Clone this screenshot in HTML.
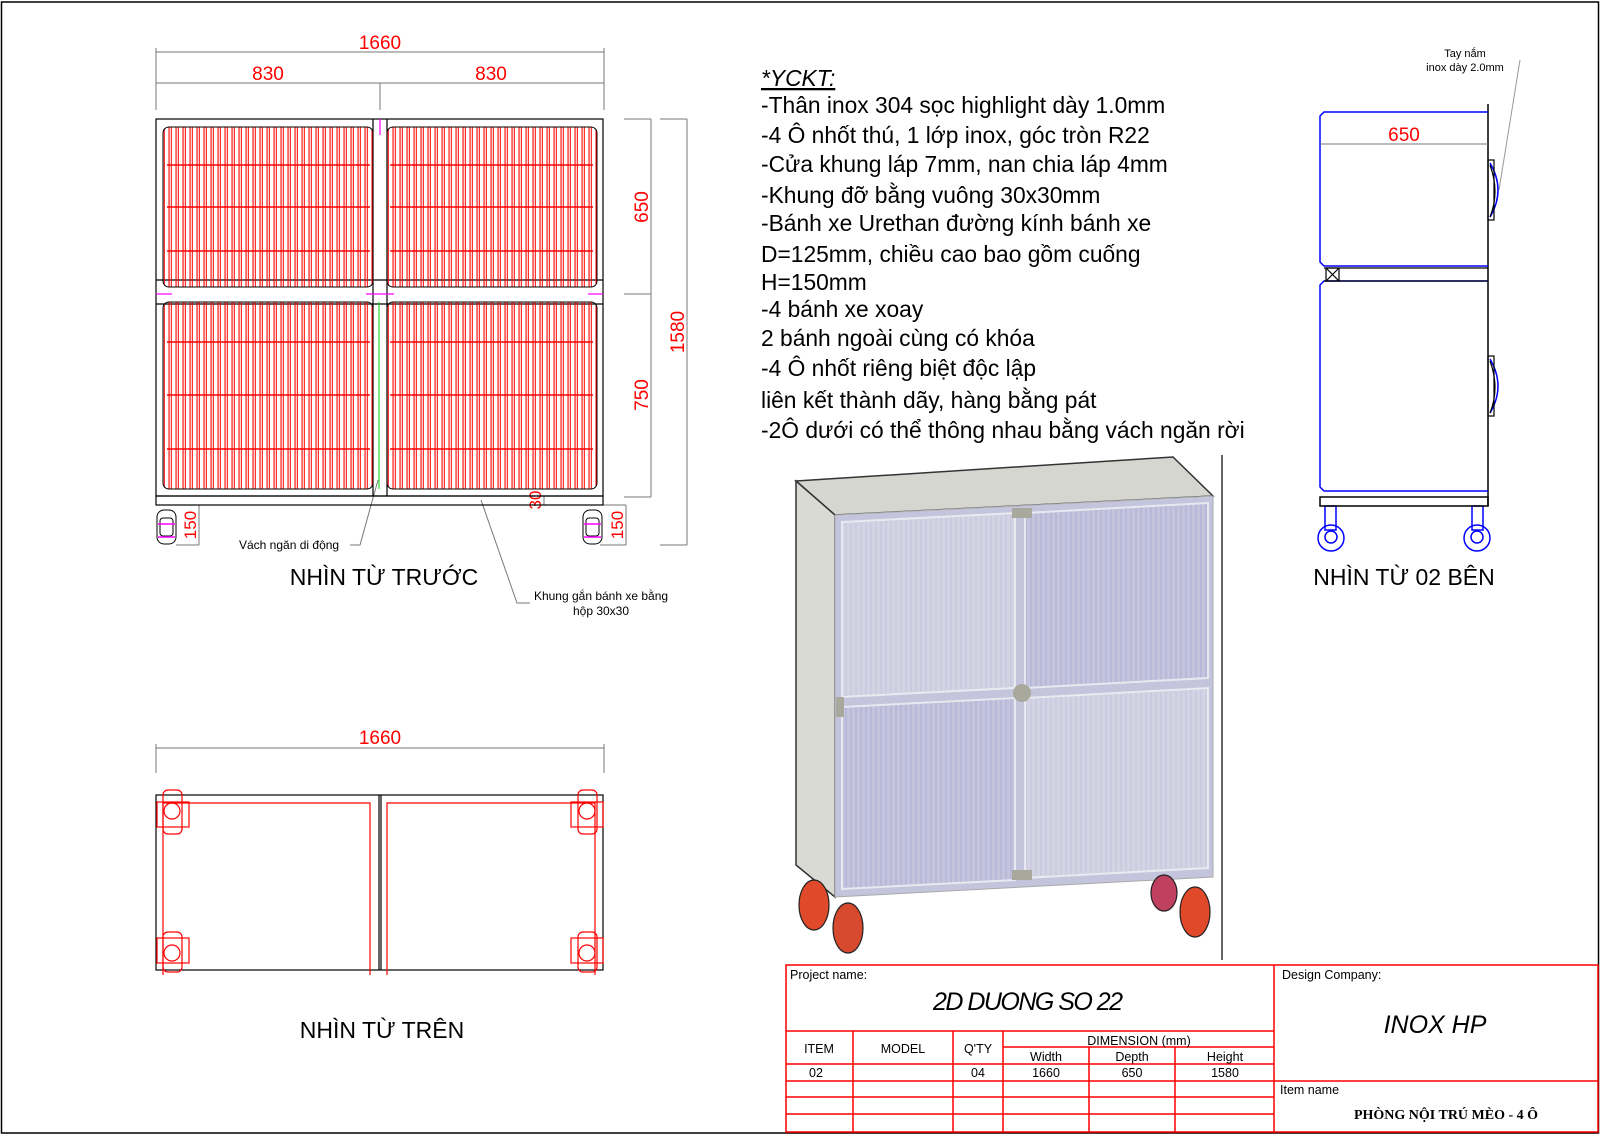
<!DOCTYPE html>
<html><head><meta charset="utf-8"><style>
html,body{margin:0;padding:0;background:#fff}
svg{display:block}
text{font-family:"Liberation Sans","DejaVu Sans",sans-serif}
</style></head><body>
<svg width="1600" height="1136" viewBox="0 0 1600 1136" xmlns="http://www.w3.org/2000/svg">
<defs>
<pattern id="bars" x="0" y="0" width="7" height="10" patternUnits="userSpaceOnUse">
<rect x="0.5" y="0" width="1.1" height="10" fill="#f00"/><rect x="2.8" y="0" width="1" height="10" fill="#f00"/>
</pattern>
<pattern id="lbars" x="0" y="0" width="5" height="10" patternUnits="userSpaceOnUse">
<rect x="0" y="0" width="2" height="10" fill="#b8b8d8"/>
</pattern>
</defs>
<rect x="1.5" y="2" width="1597" height="1131" fill="none" stroke="#000" stroke-width="1.5"/>

<!-- FRONT VIEW dims -->
<g stroke="#777" stroke-width="1" fill="none">
<line x1="156" y1="52" x2="604" y2="52"/><line x1="156" y1="83" x2="604" y2="83"/>
<line x1="156" y1="48" x2="156" y2="110"/><line x1="604" y1="48" x2="604" y2="110"/><line x1="380" y1="83" x2="380" y2="110"/>
<line x1="651" y1="119" x2="651" y2="497"/><line x1="624" y1="119" x2="651" y2="119"/><line x1="624" y1="294" x2="651" y2="294"/><line x1="624" y1="497" x2="651" y2="497"/>
<line x1="687" y1="119" x2="687" y2="545"/><line x1="660" y1="119" x2="687" y2="119"/><line x1="660" y1="545" x2="687" y2="545"/>
<line x1="199" y1="505" x2="199" y2="545"/><line x1="176" y1="545" x2="199" y2="545"/>
<line x1="626" y1="505" x2="626" y2="545"/><line x1="600" y1="545" x2="626" y2="545"/><line x1="600" y1="505" x2="626" y2="505"/>
<line x1="544" y1="496" x2="544" y2="505"/>
<polyline points="350,545 360,545 378,480"/>
<polyline points="530,603 517,603 481,500"/>
</g>
<g fill="#f00" font-size="19">
<text x="380" y="49" text-anchor="middle">1660</text>
<text x="268" y="80" text-anchor="middle">830</text>
<text x="491" y="80" text-anchor="middle">830</text>
<text transform="translate(648,207) rotate(-90)" text-anchor="middle">650</text>
<text transform="translate(648,395) rotate(-90)" text-anchor="middle">750</text>
<text transform="translate(684,332) rotate(-90)" text-anchor="middle">1580</text>
<text transform="translate(196,525) rotate(-90)" text-anchor="middle" font-size="17">150</text>
<text transform="translate(623,525) rotate(-90)" text-anchor="middle" font-size="17">150</text>
<text transform="translate(541,500) rotate(-90)" text-anchor="middle" font-size="17">30</text>
</g>
<g stroke="#000" stroke-width="1.2" fill="none">
<rect x="156" y="119" width="447" height="377"/>
<rect x="156" y="496" width="447" height="9"/>
<line x1="156" y1="280" x2="603" y2="280"/><line x1="156" y1="304" x2="603" y2="304"/>
<line x1="373" y1="119" x2="373" y2="496"/><line x1="387" y1="119" x2="387" y2="496"/>
</g>
<g fill="url(#bars)" stroke="#000" stroke-width="1">
<rect x="163" y="127" width="210" height="160" rx="6"/>
<rect x="387" y="127" width="210" height="160" rx="6"/>
<rect x="163" y="302" width="210" height="187" rx="6"/>
<rect x="387" y="302" width="210" height="187" rx="6"/>
</g>
<g stroke="#f00" stroke-width="1.5">
<line x1="167" y1="165" x2="370" y2="165"/><line x1="167" y1="207" x2="370" y2="207"/><line x1="167" y1="251" x2="370" y2="251"/>
<line x1="390" y1="165" x2="593" y2="165"/><line x1="390" y1="207" x2="593" y2="207"/><line x1="390" y1="251" x2="593" y2="251"/>
<line x1="167" y1="342" x2="370" y2="342"/><line x1="167" y1="395" x2="370" y2="395"/><line x1="167" y1="449" x2="370" y2="449"/>
<line x1="390" y1="342" x2="593" y2="342"/><line x1="390" y1="395" x2="593" y2="395"/><line x1="390" y1="449" x2="593" y2="449"/>
</g>
<line x1="379" y1="302" x2="379" y2="489" stroke="#0c0" stroke-width="1"/>
<g stroke="#f0f" stroke-width="1.2"><line x1="156" y1="294" x2="172" y2="294"/><line x1="366" y1="294" x2="394" y2="294"/><line x1="588" y1="294" x2="603" y2="294"/><line x1="380" y1="119" x2="380" y2="135"/></g>
<g stroke="#000" stroke-width="1" fill="none">
<rect x="157" y="510" width="19" height="34" rx="7"/><rect x="160" y="518" width="13" height="18" rx="3"/>
<rect x="583" y="510" width="19" height="34" rx="7"/><rect x="586" y="518" width="13" height="18" rx="3"/>
</g>
<g stroke="#f0f" stroke-width="1.5"><line x1="158" y1="524" x2="175" y2="524"/><line x1="158" y1="537" x2="175" y2="537"/><line x1="584" y1="524" x2="601" y2="524"/><line x1="584" y1="537" x2="601" y2="537"/></g>
<text x="239" y="549" font-size="12">Vách ngăn di động</text>
<text x="384" y="585" font-size="23" text-anchor="middle">NHÌN TỪ TRƯỚC</text>
<text x="601" y="600" font-size="12" text-anchor="middle">Khung gắn bánh xe bằng</text>
<text x="601" y="615" font-size="12" text-anchor="middle">hộp 30x30</text>

<!-- TOP VIEW -->
<g stroke="#777" fill="none"><line x1="156" y1="748" x2="604" y2="748"/><line x1="156" y1="744" x2="156" y2="773"/><line x1="604" y1="744" x2="604" y2="773"/></g>
<text x="380" y="744" fill="#f00" font-size="19" text-anchor="middle">1660</text>
<g stroke="#000" stroke-width="1.2" fill="none">
<rect x="156" y="795" width="447" height="175"/>
<line x1="379" y1="795" x2="379" y2="970"/><line x1="381" y1="795" x2="381" y2="970"/>
</g>
<g stroke="#f00" stroke-width="1.2" fill="none">
<path d="M163,975 V803 H370 V975"/><path d="M387,975 V803 H595 V975"/>
<rect x="157" y="802" width="32" height="25"/><rect x="571" y="802" width="32" height="25"/>
<rect x="157" y="938" width="32" height="25"/><rect x="571" y="938" width="32" height="25"/>
<circle cx="172" cy="811" r="8"/><circle cx="587" cy="811" r="8"/><circle cx="172" cy="953" r="8"/><circle cx="587" cy="953" r="8"/>
<rect x="163" y="790" width="19" height="44" rx="5"/><rect x="578" y="790" width="19" height="44" rx="5"/>
<rect x="163" y="932" width="19" height="40" rx="5"/><rect x="578" y="932" width="19" height="40" rx="5"/>
</g>
<text x="382" y="1038" font-size="23" text-anchor="middle">NHÌN TỪ TRÊN</text>

<!-- SPEC TEXT -->
<g font-size="22.8" fill="#000">
<text x="761" y="86" font-style="italic" text-decoration="underline">*YCKT:</text>
<text x="761" y="113">-Thân inox 304 sọc highlight dày 1.0mm</text>
<text x="761" y="143">-4 Ô nhốt thú, 1 lớp inox, góc tròn R22</text>
<text x="761" y="172">-Cửa khung láp 7mm, nan chia láp 4mm</text>
<text x="761" y="203">-Khung đỡ bằng vuông 30x30mm</text>
<text x="761" y="231">-Bánh xe Urethan đường kính bánh xe</text>
<text x="761" y="262">D=125mm, chiều cao bao gồm cuống</text>
<text x="761" y="290">H=150mm</text>
<text x="761" y="317">-4 bánh xe xoay</text>
<text x="761" y="346">2 bánh ngoài cùng có khóa</text>
<text x="761" y="376">-4 Ô nhốt riêng biệt độc lập</text>
<text x="761" y="408">liên kết thành dãy, hàng bằng pát</text>
<text x="761" y="438">-2Ô dưới có thể thông nhau bằng vách ngăn rời</text>
</g>

<!-- 3D VIEW -->
<polygon points="796,481 1173,457 1213,496 835,515" fill="#d6d6d0" stroke="#333" stroke-width="1.5"/>
<polygon points="796,481 835,515 835,897 796,865" fill="#dadad4" stroke="#333" stroke-width="1.5"/>
<polygon points="835,515 1213,496 1213,877 835,897" fill="#c4c4dc" stroke="#aaa"/>
<g fill="url(#lbars)" stroke="#e8e8f0" stroke-width="2">
<polygon points="842,522 1015,513 1015,688 842,697"/>
<polygon points="1025,513 1208,503 1208,678 1025,688"/>
<polygon points="842,707 1015,698 1015,880 842,889"/>
<polygon points="1025,698 1208,688 1208,868 1025,878"/>
</g>
<polygon points="843,522 1015,513 1015,688 843,697" fill="#f2f2f0" opacity="0.35"/>
<polygon points="1025,698 1208,688 1208,868 1025,878" fill="#f2f2f0" opacity="0.35"/>
<g fill="#a8a89c"><circle cx="1022" cy="693" r="9"/><rect x="1012" y="508" width="20" height="10"/><rect x="1012" y="870" width="20" height="10"/><rect x="836" y="697" width="8" height="20"/></g>
<g stroke="#222" stroke-width="1.2">
<ellipse cx="814" cy="905" rx="15" ry="25" fill="#e04a2a"/><ellipse cx="848" cy="928" rx="15" ry="25" fill="#d84a30"/>
<ellipse cx="1164" cy="893" rx="13" ry="18" fill="#c04060"/><ellipse cx="1195" cy="912" rx="15" ry="25" fill="#e04a2a"/>
</g>
<line x1="1222" y1="455" x2="1222" y2="960" stroke="#000" stroke-width="1.2"/>

<!-- SIDE VIEW -->
<text x="1465" y="57" font-size="11" text-anchor="middle">Tay nắm</text>
<text x="1465" y="71" font-size="11" text-anchor="middle">inox dày 2.0mm</text>
<line x1="1520" y1="60" x2="1499" y2="190" stroke="#999"/>
<line x1="1488" y1="104" x2="1488" y2="506" stroke="#000" stroke-width="1.5"/>
<g stroke="#00f" stroke-width="1.5" fill="none">
<path d="M1488,112 H1324 L1320,116 V262 L1324,266 H1488"/>
<path d="M1488,281 H1324 L1320,285 V487 L1324,491 H1488"/>
<path d="M1490,163 q16,27 0,54"/><path d="M1490,359 q16,27 0,54"/>
<circle cx="1331" cy="538" r="13"/><circle cx="1477" cy="538" r="13"/>
<circle cx="1331" cy="537" r="6"/><circle cx="1477" cy="537" r="6"/>
<rect x="1325" y="506" width="11" height="24"/><rect x="1472" y="506" width="11" height="24"/>
</g>
<g stroke="#000" stroke-width="1.2" fill="none">
<line x1="1324" y1="268" x2="1488" y2="268"/><line x1="1324" y1="281" x2="1488" y2="281"/>
<rect x="1326" y="268" width="13" height="13"/><path d="M1326,268 l13,13 M1339,268 l-13,13"/>
<rect x="1320" y="497" width="168" height="9" stroke-width="1.5"/>
<path d="M1490,165 q10,27 0,52 M1490,361 q10,27 0,52"/>
<rect x="1488" y="160" width="6" height="60"/><rect x="1488" y="356" width="6" height="60"/>
</g>
<line x1="1320" y1="144" x2="1488" y2="144" stroke="#777"/>
<text x="1404" y="141" fill="#f00" font-size="19" text-anchor="middle">650</text>
<text x="1404" y="585" font-size="23" text-anchor="middle">NHÌN TỪ 02 BÊN</text>

<!-- TITLE BLOCK -->
<g stroke="#f00" stroke-width="1.5" fill="none">
<rect x="786" y="965" width="812" height="167"/>
<line x1="1274" y1="965" x2="1274" y2="1132"/>
<line x1="786" y1="1031" x2="1274" y2="1031"/>
<line x1="1003" y1="1047" x2="1274" y2="1047"/>
<line x1="786" y1="1064" x2="1274" y2="1064"/>
<line x1="786" y1="1081" x2="1598" y2="1081"/>
<line x1="786" y1="1097" x2="1274" y2="1097"/>
<line x1="786" y1="1114" x2="1274" y2="1114"/>
<line x1="853" y1="1031" x2="853" y2="1132"/>
<line x1="953" y1="1031" x2="953" y2="1132"/>
<line x1="1003" y1="1031" x2="1003" y2="1132"/>
<line x1="1089" y1="1047" x2="1089" y2="1132"/>
<line x1="1175" y1="1047" x2="1175" y2="1132"/>
</g>
<g font-size="12.5" fill="#000">
<text x="790" y="979">Project name:</text>
<text x="1282" y="979">Design Company:</text>
<text x="1280" y="1094">Item name</text>
<text x="819" y="1053" text-anchor="middle">ITEM</text>
<text x="903" y="1053" text-anchor="middle">MODEL</text>
<text x="978" y="1053" text-anchor="middle">Q'TY</text>
<text x="1139" y="1045" text-anchor="middle">DIMENSION (mm)</text>
<text x="1046" y="1061" text-anchor="middle">Width</text>
<text x="1132" y="1061" text-anchor="middle">Depth</text>
<text x="1225" y="1061" text-anchor="middle">Height</text>
<text x="816" y="1077" text-anchor="middle">02</text>
<text x="978" y="1077" text-anchor="middle">04</text>
<text x="1046" y="1077" text-anchor="middle">1660</text>
<text x="1132" y="1077" text-anchor="middle">650</text>
<text x="1225" y="1077" text-anchor="middle">1580</text>
</g>
<text x="1028" y="1010" font-size="25" font-style="italic" text-anchor="middle" textLength="190">2D DUONG SO 22</text>
<text x="1435" y="1033" font-size="25" font-style="italic" text-anchor="middle">INOX HP</text>
<text x="1446" y="1119" font-size="14" font-weight="bold" style="font-family:'Liberation Serif',serif" text-anchor="middle">PHÒNG NỘI TRÚ MÈO - 4 Ô</text>
</svg>
</body></html>
